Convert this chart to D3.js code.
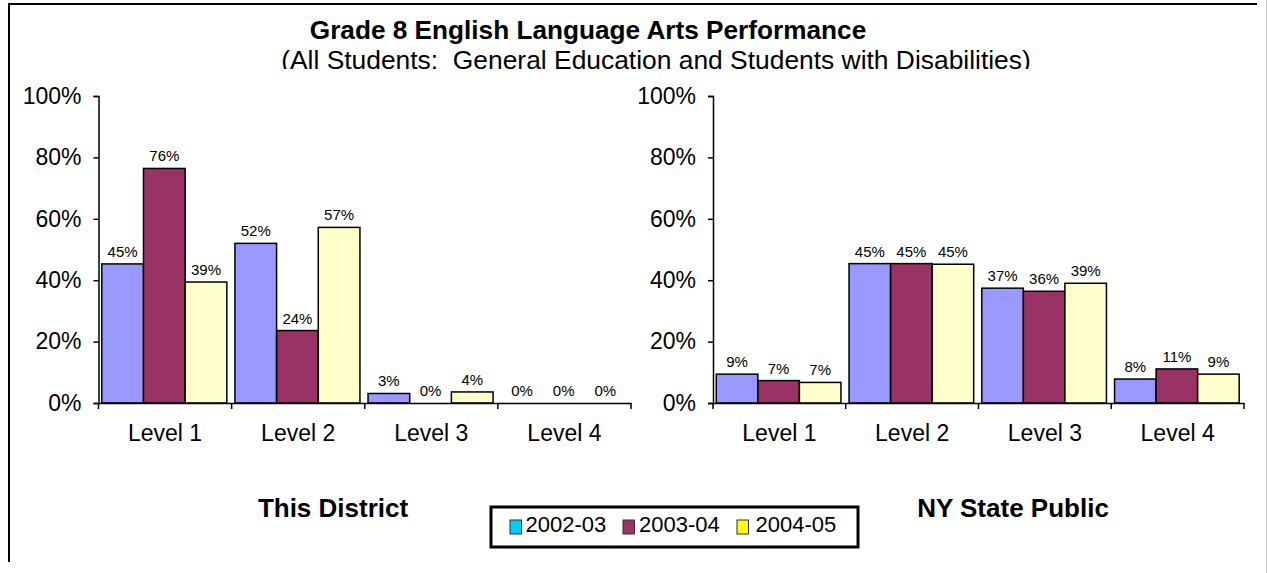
<!DOCTYPE html>
<html><head><meta charset="utf-8">
<script src="https://cdn.jsdelivr.net/npm/d3@7"></script>
<style>
html,body{margin:0;padding:0;background:#fff;}
svg{display:block;font-family:"Liberation Sans",Arial,sans-serif;}
text{white-space:pre;}
</style></head>
<body>
<svg id="chart" width="1267" height="573"></svg>
<script>
const categories = ["Level 1", "Level 2", "Level 3", "Level 4"];
const years = ["2002-03", "2003-04", "2004-05"];
const district0203 = [45.3, 52.0, 3.1, 0];
const district0304 = [76.4, 23.6, 0, 0];
const district0405 = [39.4, 57.2, 3.6, 0];
const state0203 = [9.4, 45.4, 37.4, 7.8];
const state0304 = [7.3, 45.4, 36.4, 11.1];
const state0405 = [6.7, 45.2, 39.0, 9.4];
const yTicks = [0, 20, 40, 60, 80, 100];
const panelTitles = ["This District", "NY State Public"];
const title = "Grade 8 English Language Arts Performance";
const subtitle = "(All Students:  General Education and Students with Disabilities)";

const barColors = ["#9999FF", "#993366", "#FFFFCC"];
const legendColors = ["#00CCFF", "#993366", "#FFFF00"];

const svg = d3.select("#chart");

// frame
svg.append("line").attr("x1", 9).attr("x2", 9).attr("y1", 3).attr("y2", 562)
  .attr("stroke", "#000").attr("stroke-width", 2);
svg.append("line").attr("x1", 8).attr("x2", 1257).attr("y1", 4).attr("y2", 4)
  .attr("stroke", "#000").attr("stroke-width", 2);
svg.append("line").attr("x1", 1266.5).attr("x2", 1266.5).attr("y1", 0).attr("y2", 573)
  .attr("stroke", "#c8c8c8").attr("stroke-width", 1);

// titles
svg.append("text").attr("x", 588).attr("y", 39).attr("text-anchor", "middle")
  .attr("font-size", 26.2).attr("font-weight", "bold").text(title);
svg.append("clipPath").attr("id", "subclip").append("rect")
  .attr("x", 0).attr("y", 0).attr("width", 1267).attr("height", 69);
svg.append("text").attr("x", 656).attr("y", 69).attr("text-anchor", "middle")
  .attr("font-size", 26.4).attr("clip-path", "url(#subclip)").text(subtitle);

const y = d3.scaleLinear().domain([0, 100]).range([403, 96]);

function panel(series, x0, x1, titleText, titleX) {
  const x = d3.scaleBand().domain(categories).range([x0, x1]).padding(0);
  const bw = x.bandwidth();
  const xs = d3.scaleBand().domain(years).range([3.3, bw - 4.8]).padding(0);
  const g = svg.append("g");

  const rows = [];
  categories.forEach((c, i) => years.forEach((yr, j) => rows.push({c, yr, j, v: series[j][i]})));

  g.selectAll("rect.bar").data(rows).join("rect").attr("class", "bar")
    .attr("x", d => x(d.c) + xs(d.yr))
    .attr("width", xs.bandwidth())
    .attr("y", d => y(d.v))
    .attr("height", d => y(0) - y(d.v))
    .attr("fill", d => barColors[d.j])
    .attr("stroke", "#000").attr("stroke-width", d => d.v > 0 ? 1.5 : 0);

  g.selectAll("text.lbl").data(rows).join("text").attr("class", "lbl")
    .attr("x", d => x(d.c) + xs(d.yr) + xs.bandwidth() / 2)
    .attr("y", d => y(d.v) - 7)
    .attr("text-anchor", "middle").attr("font-size", 15)
    .text(d => Math.round(d.v) + "%");

  // y axis
  const ya = g.append("g").attr("transform", `translate(${x0},0)`)
    .call(d3.axisLeft(y).tickValues(yTicks).tickFormat(d => d + "%").tickSize(5).tickPadding(12));
  ya.select(".domain").attr("stroke", "#000").attr("stroke-width", 1.5);
  ya.selectAll(".tick line").attr("stroke", "#000").attr("stroke-width", 1.5);
  ya.selectAll(".tick text").attr("font-size", 23).attr("fill", "#000")
    .attr("font-family", "Liberation Sans, Arial, sans-serif");

  // x axis
  const xa = g.append("g").attr("transform", `translate(0,${y(0)})`)
    .call(d3.axisBottom(x).tickSize(0).tickPadding(22));
  xa.select(".domain").attr("stroke", "#000").attr("stroke-width", 1.5);
  xa.selectAll(".tick text").attr("font-size", 23).attr("fill", "#000")
    .attr("font-family", "Liberation Sans, Arial, sans-serif");
  const bounds = categories.map(c => x(c)).concat([x1]);
  g.selectAll("line.ct").data(bounds).join("line").attr("class", "ct")
    .attr("x1", d => d).attr("x2", d => d)
    .attr("y1", y(0)).attr("y2", y(0) + 6)
    .attr("stroke", "#000").attr("stroke-width", 1.5);

  svg.append("text").attr("x", titleX).attr("y", 517).attr("text-anchor", "middle")
    .attr("font-size", 26).attr("font-weight", "bold").text(titleText);
}

panel([district0203, district0304, district0405], 98.5, 631, panelTitles[0], 333);
panel([state0203, state0304, state0405], 713, 1244, panelTitles[1], 1013);

// legend
const lg = svg.append("g");
lg.append("rect").attr("x", 491).attr("y", 507).attr("width", 367).attr("height", 40)
  .attr("fill", "#fff").attr("stroke", "#000").attr("stroke-width", 3);
const swX = [510, 623, 737];
const txX = [525.5, 639, 755.5];
years.forEach((yr, j) => {
  lg.append("rect").attr("x", swX[j]).attr("y", 520).attr("width", 11.5).attr("height", 14)
    .attr("fill", legendColors[j]).attr("stroke", "#333").attr("stroke-width", 1);
  lg.append("text").attr("x", txX[j]).attr("y", 532).attr("font-size", 22).text(yr);
});
</script>
</body></html>
